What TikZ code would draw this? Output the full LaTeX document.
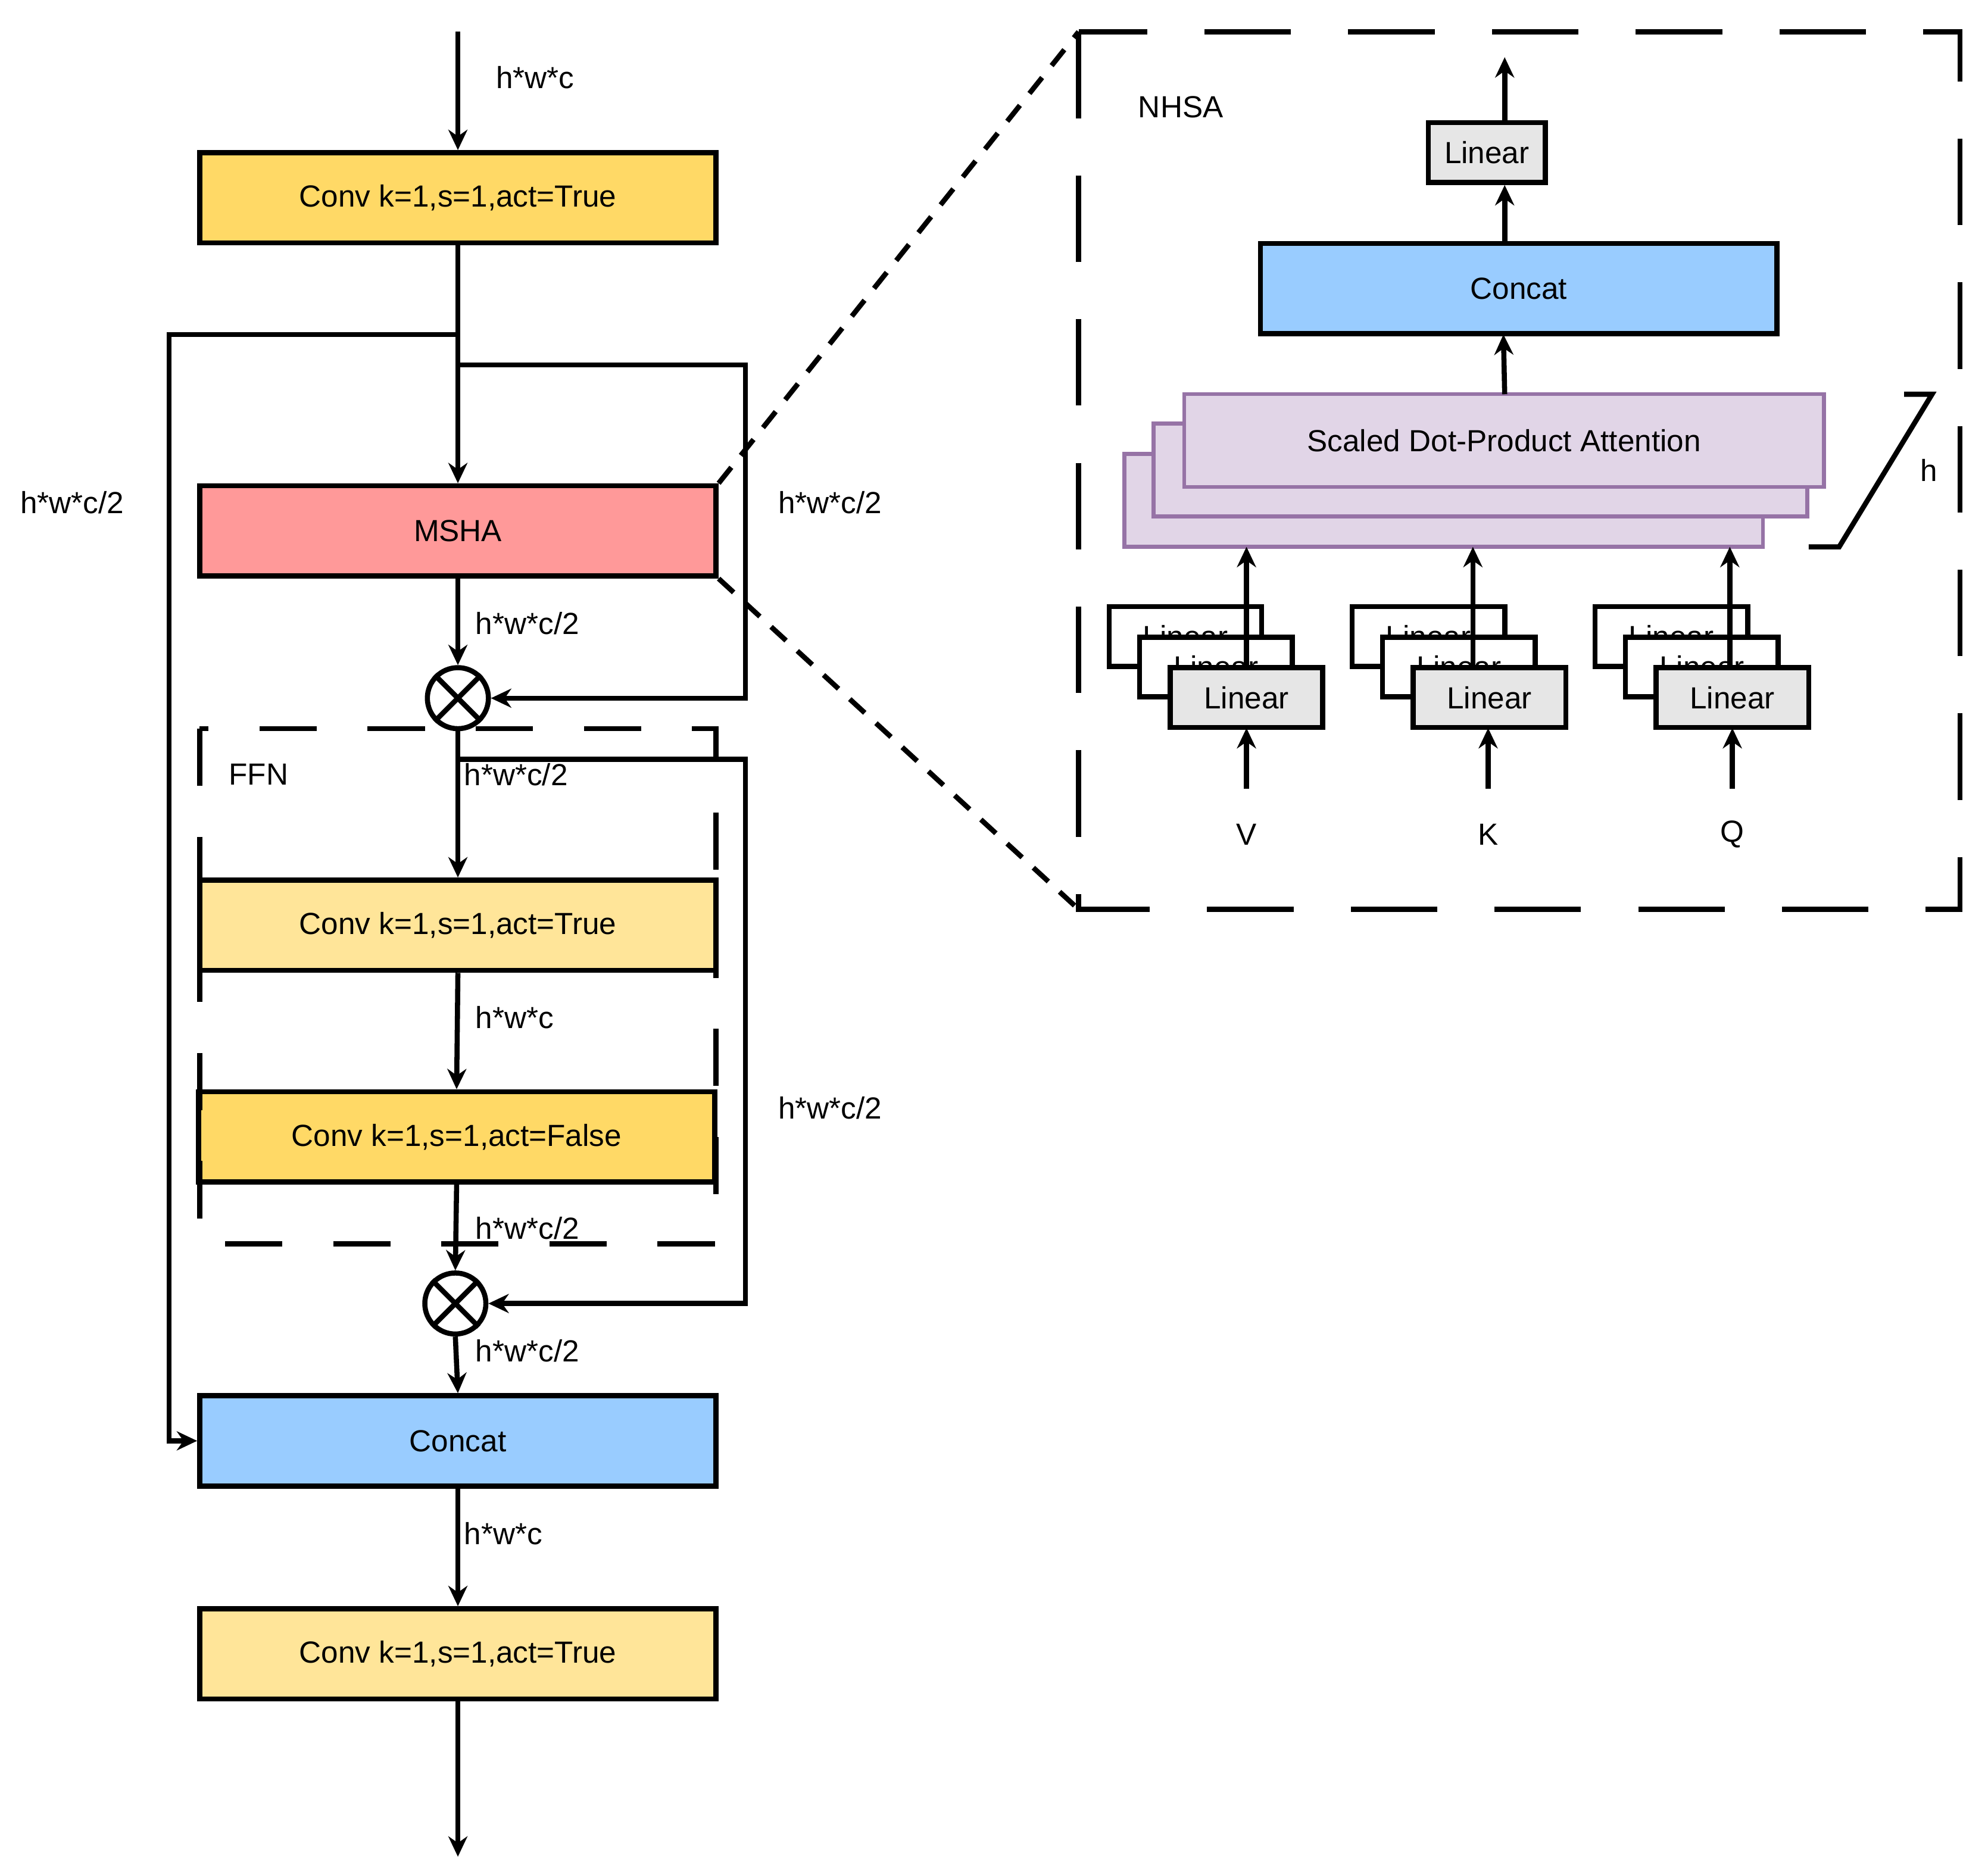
\documentclass[tikz,border=0pt]{standalone}
\usepackage{fontspec}
\setmainfont{Liberation Sans}
\usetikzlibrary{arrows.meta}
\definecolor{yel}{HTML}{FFD966}
\definecolor{lyel}{HTML}{FFE599}
\definecolor{red}{HTML}{FF9999}
\definecolor{blu}{HTML}{99CCFF}
\definecolor{gry}{HTML}{E6E6E6}
\definecolor{pfill}{HTML}{E1D5E7}
\definecolor{pdraw}{HTML}{9673A6}
\begin{document}
\begin{tikzpicture}[x=1pt,y=-1pt,line width=4pt,
  box/.style={draw,line width=4pt,minimum width=406pt,minimum height=71pt,inner sep=0pt,font=\fontsize{24}{28}\selectfont},
  lin/.style={draw,line width=4pt,minimum width=120pt,minimum height=47pt,inner sep=0pt,font=\fontsize{24}{28}\selectfont},
  sd/.style={draw=pdraw,fill=pfill,line width=3pt,inner sep=0pt},
  lab/.style={font=\fontsize{24}{28}\selectfont,anchor=west,inner sep=0pt},
  arr/.style={-{Stealth[length=16pt,width=15pt]}},
  ot/.style={circle,draw,line width=4pt,minimum size=48pt,inner sep=0pt},
  dsh/.style={line width=4pt,dash pattern=on 45pt off 40pt},
  bdsh/.style={line width=4pt,dash pattern=on 68pt off 45pt}]
\useasboundingbox (0,0) rectangle (1563,1471);
% left column
\coordinate (in) at (360,25);
\node[box,fill=yel] (c1) at (360,155.5) {Conv k=1,s=1,act=True};
\node[box,fill=red] (msha) at (360,417.5) {MSHA};
\node[ot] (o1) at (360,549) {};
\draw (o1.north west)--(o1.south east) (o1.north east)--(o1.south west);
\node[box,fill=lyel] (c2) at (360,727.5) {Conv k=1,s=1,act=True};
\node[box,fill=yel] (c3) at (359,894) {Conv k=1,s=1,act=False};
\node[ot] (o2) at (358,1025) {};
\draw (o2.north west)--(o2.south east) (o2.north east)--(o2.south west);
\node[box,fill=blu] (cc) at (360,1133) {Concat};
\node[box,fill=lyel] (c4) at (360,1300.5) {Conv k=1,s=1,act=True};
\coordinate (out) at (360,1460);
% FFN dashed
\draw[dsh] (157,573) rectangle (563,978);
\node[lab] (ffn) at (178,609) {FFN};
% connectors
\draw[arr] (in) -- (c1.north);
\draw[arr] (c1.south) -- (msha.north);
\coordinate (b1) at (360,263);
\coordinate (b2) at (360,287);
\draw[arr] (b1) -- (133,263) -- (133,1133) -- (cc.west);
\draw[arr] (b2) -- (586,287) -- (586,549) -- (o1.east);
\draw[arr] (msha.south) -- (o1.north);
\draw[arr] (o1.south) -- (c2.north);
\coordinate (b3) at (360,597);
\draw[arr] (b3) -- (586,597) -- (586,1025) -- (o2.east);
\draw[arr] (c2.south) -- (c3.north);
\draw[arr] (c3.south) -- (o2.north);
\draw[arr] (o2.south) -- (cc.north);
\draw[arr] (cc.south) -- (c4.north);
\draw[arr] (c4.south) -- (out);
% labels
\node[lab] (l1) at (388,61) {h*w*c};
\node[lab] (l2) at (14,395) {h*w*c/2};
\node[lab] (l3) at (610,395) {h*w*c/2};
\node[lab] (l4) at (372,490) {h*w*c/2};
\node[lab] (l5) at (363,609) {h*w*c/2};
\node[lab] (l6) at (372,800) {h*w*c};
\node[lab] (l7) at (610,871) {h*w*c/2};
\node[lab] (l8) at (372,966) {h*w*c/2};
\node[lab] (l9) at (372,1062) {h*w*c/2};
\node[lab] (l10) at (363,1206) {h*w*c};
% right panel
\draw[bdsh] (848,25) rectangle (1541,715);
\draw[line width=4pt,dash pattern=on 16pt off 12pt] (msha.north east) -- (848,25);
\draw[line width=4pt,dash pattern=on 16pt off 12pt] (msha.south east) -- (848,715);
\node[lab] (nhsa) at (893,84) {NHSA};
\node[lin,fill=gry,minimum width=92pt] (tl) at (1169,120) {Linear};
\coordinate (top) at (1183,45);
\node[box,fill=blu] (rc) at (1194,227) {Concat};
\node[sd,minimum width=502pt,minimum height=73pt] (s3) at (1135,393.5) {};
\node[sd,minimum width=514pt,minimum height=73pt] (s2) at (1164,369.5) {};
\node[sd,minimum width=503pt,minimum height=73pt,font=\fontsize{24}{28}\selectfont] (s1) at (1182.5,346.5) {Scaled Dot-Product Attention};
\draw[line width=4pt] (1422,430) -- (1446,430) -- (1519,310) -- (1497,310);
\node[lab] (hh) at (1508,370) {h};
\draw[arr] (tl.north -| top) -- (top);
\draw[arr] (rc.north -| top) -- (tl.south -| top);
\draw[arr] (1183,310) -- (1182,263);
\foreach \n/\dx/\ux/\lx/\t in {v/0/980/980/V,k/191/1158/1170/K,q/382/1360/1362/Q}{
  \node[lin,fill=white] (\n a) at (932+\dx,500.5) {Linear};
  \node[lin,fill=white] (\n b) at (956+\dx,524.5) {Linear};
  \node[lin,fill=gry] (\n c) at (980+\dx,548.5) {Linear};
  \node[font=\fontsize{24}{28}\selectfont,inner sep=0pt] (\n l) at (\lx,656) {\t};
  \coordinate (\n s) at (\lx,620);
  \draw[arr] (\n s) -- (\lx,572.5);
  \draw[arr] (\ux,525) -- (\ux,430);
}
\end{tikzpicture}
\end{document}
